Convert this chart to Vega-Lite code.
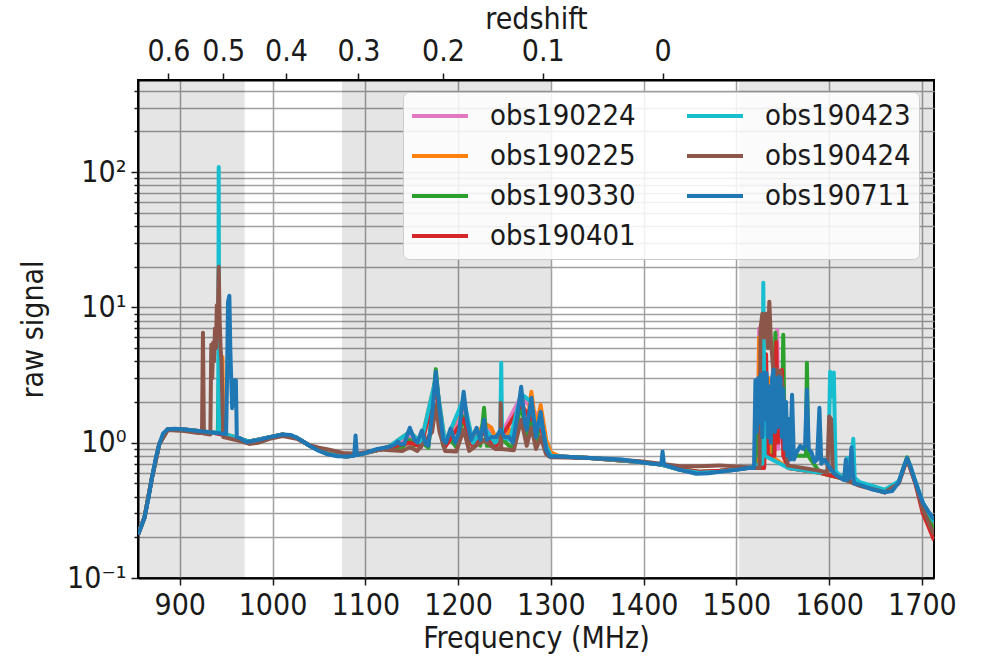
{
"$schema":"https://vega.github.io/schema/vega-lite/v6.json",
"width":796,"height":498,
"autosize":{"type":"none"},
"padding":{"left":138,"top":80,"right":48,"bottom":78},
"background":"white",
"datasets":{
"shade":[{"a":855,"b":970},{"a":1075,"b":1300},{"a":1503,"b":1713}],
"sig":[
{"s":"obs190224","f":855,"v":0.21},{"s":"obs190224","f":862,"v":0.28},{"s":"obs190224","f":870,"v":0.55},{"s":"obs190224","f":878,"v":0.98},{"s":"obs190224","f":887,"v":1.26},{"s":"obs190224","f":905,"v":1.25},{"s":"obs190224","f":935,"v":1.19},{"s":"obs190224","f":960,"v":1.1},{"s":"obs190224","f":975,"v":1.02},{"s":"obs190224","f":997,"v":1.1},{"s":"obs190224","f":1011,"v":1.15},{"s":"obs190224","f":1026,"v":1.09},{"s":"obs190224","f":1040,"v":0.95},{"s":"obs190224","f":1060,"v":0.82},{"s":"obs190224","f":1080,"v":0.79},{"s":"obs190224","f":1100,"v":0.84},{"s":"obs190224","f":1125,"v":0.92},{"s":"obs190224","f":1148,"v":1.1},{"s":"obs190224","f":1160,"v":0.95},{"s":"obs190224","f":1176,"v":2.8},{"s":"obs190224","f":1186,"v":0.95},{"s":"obs190224","f":1206,"v":1.8},{"s":"obs190224","f":1216,"v":0.95},{"s":"obs190224","f":1228,"v":1.3},{"s":"obs190224","f":1234,"v":1.25},{"s":"obs190224","f":1240,"v":0.95},{"s":"obs190224","f":1268,"v":2.2},{"s":"obs190224","f":1279,"v":1.8},{"s":"obs190224","f":1289,"v":1.5},{"s":"obs190224","f":1297,"v":0.82},{"s":"obs190224","f":1310,"v":0.79},{"s":"obs190224","f":1342,"v":0.77},{"s":"obs190224","f":1396,"v":0.72},{"s":"obs190224","f":1419,"v":0.69},{"s":"obs190224","f":1439,"v":0.63},{"s":"obs190224","f":1460,"v":0.6},{"s":"obs190224","f":1482,"v":0.61},{"s":"obs190224","f":1512,"v":0.65},{"s":"obs190224","f":1523,"v":0.66},{"s":"obs190224","f":1524.5,"v":7.0},{"s":"obs190224","f":1526,"v":0.9},{"s":"obs190224","f":1530,"v":2.5},{"s":"obs190224","f":1533,"v":0.9},{"s":"obs190224","f":1543,"v":0.9},{"s":"obs190224","f":1544,"v":6.8},{"s":"obs190224","f":1545,"v":0.9},{"s":"obs190224","f":1550,"v":2.0},{"s":"obs190224","f":1556,"v":0.65},{"s":"obs190224","f":1590,"v":0.6},{"s":"obs190224","f":1612,"v":0.55},{"s":"obs190224","f":1633,"v":0.49},{"s":"obs190224","f":1660,"v":0.43},{"s":"obs190224","f":1675,"v":0.51},{"s":"obs190224","f":1684,"v":0.77},{"s":"obs190224","f":1693,"v":0.51},{"s":"obs190224","f":1701,"v":0.34},{"s":"obs190224","f":1713,"v":0.24},

{"s":"obs190225","f":855,"v":0.21},{"s":"obs190225","f":862,"v":0.28},{"s":"obs190225","f":870,"v":0.55},{"s":"obs190225","f":878,"v":0.98},{"s":"obs190225","f":887,"v":1.26},{"s":"obs190225","f":905,"v":1.25},{"s":"obs190225","f":935,"v":1.19},{"s":"obs190225","f":945,"v":1.17},{"s":"obs190225","f":946,"v":4.3},{"s":"obs190225","f":947,"v":1.17},{"s":"obs190225","f":960,"v":1.1},{"s":"obs190225","f":975,"v":1.02},{"s":"obs190225","f":997,"v":1.1},{"s":"obs190225","f":1011,"v":1.15},{"s":"obs190225","f":1026,"v":1.09},{"s":"obs190225","f":1040,"v":0.95},{"s":"obs190225","f":1060,"v":0.82},{"s":"obs190225","f":1080,"v":0.79},{"s":"obs190225","f":1100,"v":0.84},{"s":"obs190225","f":1125,"v":0.93},{"s":"obs190225","f":1148,"v":1.2},{"s":"obs190225","f":1160,"v":1.0},{"s":"obs190225","f":1176,"v":3.0},{"s":"obs190225","f":1186,"v":1.0},{"s":"obs190225","f":1206,"v":2.0},{"s":"obs190225","f":1216,"v":1.0},{"s":"obs190225","f":1228,"v":1.4},{"s":"obs190225","f":1236,"v":1.29},{"s":"obs190225","f":1241,"v":1.05},{"s":"obs190225","f":1246,"v":1.2},{"s":"obs190225","f":1251,"v":1.05},{"s":"obs190225","f":1256,"v":1.25},{"s":"obs190225","f":1260,"v":1.05},{"s":"obs190225","f":1268,"v":2.3},{"s":"obs190225","f":1274,"v":1.3},{"s":"obs190225","f":1279,"v":2.38},{"s":"obs190225","f":1284,"v":1.3},{"s":"obs190225","f":1289,"v":1.9},{"s":"obs190225","f":1295,"v":1.05},{"s":"obs190225","f":1300,"v":0.85},{"s":"obs190225","f":1310,"v":0.79},{"s":"obs190225","f":1342,"v":0.77},{"s":"obs190225","f":1396,"v":0.72},{"s":"obs190225","f":1419,"v":0.69},{"s":"obs190225","f":1439,"v":0.63},{"s":"obs190225","f":1460,"v":0.6},{"s":"obs190225","f":1482,"v":0.61},{"s":"obs190225","f":1512,"v":0.65},{"s":"obs190225","f":1523,"v":0.66},{"s":"obs190225","f":1524.5,"v":6.0},{"s":"obs190225","f":1526,"v":0.9},{"s":"obs190225","f":1535,"v":3.0},{"s":"obs190225","f":1537,"v":0.8},{"s":"obs190225","f":1556,"v":0.65},{"s":"obs190225","f":1590,"v":0.6},{"s":"obs190225","f":1612,"v":0.55},{"s":"obs190225","f":1633,"v":0.49},{"s":"obs190225","f":1660,"v":0.43},{"s":"obs190225","f":1675,"v":0.51},{"s":"obs190225","f":1684,"v":0.77},{"s":"obs190225","f":1693,"v":0.51},{"s":"obs190225","f":1701,"v":0.33},{"s":"obs190225","f":1713,"v":0.22},

{"s":"obs190330","f":855,"v":0.21},{"s":"obs190330","f":862,"v":0.28},{"s":"obs190330","f":870,"v":0.55},{"s":"obs190330","f":878,"v":0.98},{"s":"obs190330","f":887,"v":1.26},{"s":"obs190330","f":905,"v":1.25},{"s":"obs190330","f":935,"v":1.18},{"s":"obs190330","f":941,"v":1.18},{"s":"obs190330","f":942,"v":3.0},{"s":"obs190330","f":943,"v":1.17},{"s":"obs190330","f":960,"v":1.09},{"s":"obs190330","f":975,"v":1.02},{"s":"obs190330","f":997,"v":1.1},{"s":"obs190330","f":1011,"v":1.15},{"s":"obs190330","f":1026,"v":1.09},{"s":"obs190330","f":1040,"v":0.95},{"s":"obs190330","f":1060,"v":0.83},{"s":"obs190330","f":1080,"v":0.79},{"s":"obs190330","f":1100,"v":0.84},{"s":"obs190330","f":1125,"v":0.92},{"s":"obs190330","f":1140,"v":0.93},{"s":"obs190330","f":1148,"v":1.05},{"s":"obs190330","f":1153,"v":0.95},{"s":"obs190330","f":1161,"v":1.0},{"s":"obs190330","f":1168,"v":0.92},{"s":"obs190330","f":1172,"v":1.7},{"s":"obs190330","f":1176,"v":3.5},{"s":"obs190330","f":1180,"v":1.7},{"s":"obs190330","f":1184,"v":0.95},{"s":"obs190330","f":1192,"v":1.05},{"s":"obs190330","f":1198,"v":0.93},{"s":"obs190330","f":1206,"v":1.56},{"s":"obs190330","f":1212,"v":0.98},{"s":"obs190330","f":1220,"v":1.05},{"s":"obs190330","f":1224,"v":0.95},{"s":"obs190330","f":1228,"v":1.81},{"s":"obs190330","f":1231,"v":0.95},{"s":"obs190330","f":1241,"v":0.95},{"s":"obs190330","f":1246,"v":1.1},{"s":"obs190330","f":1255,"v":0.95},{"s":"obs190330","f":1259,"v":0.92},{"s":"obs190330","f":1268,"v":2.0},{"s":"obs190330","f":1274,"v":1.0},{"s":"obs190330","f":1279,"v":1.6},{"s":"obs190330","f":1284,"v":0.95},{"s":"obs190330","f":1289,"v":1.5},{"s":"obs190330","f":1295,"v":0.85},{"s":"obs190330","f":1299,"v":0.79},{"s":"obs190330","f":1310,"v":0.79},{"s":"obs190330","f":1342,"v":0.77},{"s":"obs190330","f":1396,"v":0.72},{"s":"obs190330","f":1419,"v":0.69},{"s":"obs190330","f":1439,"v":0.64},{"s":"obs190330","f":1460,"v":0.61},{"s":"obs190330","f":1482,"v":0.62},{"s":"obs190330","f":1512,"v":0.65},{"s":"obs190330","f":1520,"v":0.66},{"s":"obs190330","f":1521,"v":1.75},{"s":"obs190330","f":1522,"v":0.8},{"s":"obs190330","f":1525,"v":1.5},{"s":"obs190330","f":1527,"v":0.8},{"s":"obs190330","f":1540,"v":0.8},{"s":"obs190330","f":1542,"v":6.5},{"s":"obs190330","f":1544,"v":1.5},{"s":"obs190330","f":1547,"v":2.5},{"s":"obs190330","f":1549,"v":1.2},{"s":"obs190330","f":1550.5,"v":6.27},{"s":"obs190330","f":1552,"v":1.0},{"s":"obs190330","f":1560,"v":0.8},{"s":"obs190330","f":1575,"v":0.8},{"s":"obs190330","f":1576,"v":3.9},{"s":"obs190330","f":1577.5,"v":0.8},{"s":"obs190330","f":1590,"v":0.6},{"s":"obs190330","f":1612,"v":0.55},{"s":"obs190330","f":1633,"v":0.49},{"s":"obs190330","f":1660,"v":0.43},{"s":"obs190330","f":1675,"v":0.51},{"s":"obs190330","f":1684,"v":0.78},{"s":"obs190330","f":1693,"v":0.51},{"s":"obs190330","f":1701,"v":0.34},{"s":"obs190330","f":1713,"v":0.23},

{"s":"obs190401","f":855,"v":0.21},{"s":"obs190401","f":862,"v":0.28},{"s":"obs190401","f":870,"v":0.55},{"s":"obs190401","f":878,"v":0.98},{"s":"obs190401","f":887,"v":1.26},{"s":"obs190401","f":905,"v":1.25},{"s":"obs190401","f":935,"v":1.19},{"s":"obs190401","f":960,"v":1.09},{"s":"obs190401","f":975,"v":1.02},{"s":"obs190401","f":997,"v":1.1},{"s":"obs190401","f":1011,"v":1.15},{"s":"obs190401","f":1026,"v":1.09},{"s":"obs190401","f":1040,"v":0.95},{"s":"obs190401","f":1060,"v":0.82},{"s":"obs190401","f":1080,"v":0.79},{"s":"obs190401","f":1100,"v":0.84},{"s":"obs190401","f":1125,"v":0.92},{"s":"obs190401","f":1148,"v":1.0},{"s":"obs190401","f":1160,"v":0.93},{"s":"obs190401","f":1176,"v":2.5},{"s":"obs190401","f":1186,"v":0.93},{"s":"obs190401","f":1206,"v":1.5},{"s":"obs190401","f":1216,"v":0.93},{"s":"obs190401","f":1228,"v":1.2},{"s":"obs190401","f":1240,"v":0.93},{"s":"obs190401","f":1268,"v":1.9},{"s":"obs190401","f":1279,"v":1.5},{"s":"obs190401","f":1289,"v":1.3},{"s":"obs190401","f":1297,"v":0.8},{"s":"obs190401","f":1310,"v":0.79},{"s":"obs190401","f":1342,"v":0.77},{"s":"obs190401","f":1396,"v":0.72},{"s":"obs190401","f":1419,"v":0.69},{"s":"obs190401","f":1439,"v":0.64},{"s":"obs190401","f":1460,"v":0.61},{"s":"obs190401","f":1482,"v":0.62},{"s":"obs190401","f":1512,"v":0.65},{"s":"obs190401","f":1530,"v":0.65},{"s":"obs190401","f":1532,"v":4.5},{"s":"obs190401","f":1534,"v":0.8},{"s":"obs190401","f":1541,"v":0.8},{"s":"obs190401","f":1543,"v":5.56},{"s":"obs190401","f":1545,"v":1.0},{"s":"obs190401","f":1549,"v":3.46},{"s":"obs190401","f":1550.5,"v":0.8},{"s":"obs190401","f":1556,"v":0.65},{"s":"obs190401","f":1590,"v":0.6},{"s":"obs190401","f":1612,"v":0.55},{"s":"obs190401","f":1633,"v":0.49},{"s":"obs190401","f":1660,"v":0.43},{"s":"obs190401","f":1675,"v":0.51},{"s":"obs190401","f":1684,"v":0.76},{"s":"obs190401","f":1693,"v":0.5},{"s":"obs190401","f":1701,"v":0.3},{"s":"obs190401","f":1707,"v":0.24},{"s":"obs190401","f":1713,"v":0.19},

{"s":"obs190423","f":855,"v":0.21},{"s":"obs190423","f":862,"v":0.28},{"s":"obs190423","f":870,"v":0.55},{"s":"obs190423","f":878,"v":0.98},{"s":"obs190423","f":887,"v":1.26},{"s":"obs190423","f":905,"v":1.25},{"s":"obs190423","f":935,"v":1.19},{"s":"obs190423","f":941.5,"v":1.19},{"s":"obs190423","f":942,"v":109},{"s":"obs190423","f":942.6,"v":1.19},{"s":"obs190423","f":960,"v":1.1},{"s":"obs190423","f":975,"v":1.02},{"s":"obs190423","f":997,"v":1.1},{"s":"obs190423","f":1011,"v":1.15},{"s":"obs190423","f":1026,"v":1.09},{"s":"obs190423","f":1040,"v":0.95},{"s":"obs190423","f":1060,"v":0.82},{"s":"obs190423","f":1080,"v":0.79},{"s":"obs190423","f":1100,"v":0.84},{"s":"obs190423","f":1125,"v":0.93},{"s":"obs190423","f":1148,"v":1.2},{"s":"obs190423","f":1160,"v":1.0},{"s":"obs190423","f":1176,"v":3.0},{"s":"obs190423","f":1186,"v":1.0},{"s":"obs190423","f":1206,"v":2.1},{"s":"obs190423","f":1216,"v":1.0},{"s":"obs190423","f":1228,"v":1.3},{"s":"obs190423","f":1240,"v":1.0},{"s":"obs190423","f":1245.5,"v":1.1},{"s":"obs190423","f":1246.5,"v":3.9},{"s":"obs190423","f":1247.5,"v":1.1},{"s":"obs190423","f":1256,"v":1.05},{"s":"obs190423","f":1268,"v":2.3},{"s":"obs190423","f":1279,"v":2.0},{"s":"obs190423","f":1284,"v":1.2},{"s":"obs190423","f":1289,"v":1.5},{"s":"obs190423","f":1295,"v":0.95},{"s":"obs190423","f":1300,"v":0.8},{"s":"obs190423","f":1310,"v":0.79},{"s":"obs190423","f":1342,"v":0.77},{"s":"obs190423","f":1396,"v":0.72},{"s":"obs190423","f":1419,"v":0.69},{"s":"obs190423","f":1439,"v":0.63},{"s":"obs190423","f":1460,"v":0.6},{"s":"obs190423","f":1482,"v":0.61},{"s":"obs190423","f":1512,"v":0.65},{"s":"obs190423","f":1528,"v":0.7},{"s":"obs190423","f":1529,"v":15.2},{"s":"obs190423","f":1530.5,"v":0.8},{"s":"obs190423","f":1556,"v":0.65},{"s":"obs190423","f":1590,"v":0.6},{"s":"obs190423","f":1599,"v":0.62},{"s":"obs190423","f":1601,"v":3.34},{"s":"obs190423","f":1603,"v":2.2},{"s":"obs190423","f":1605,"v":3.3},{"s":"obs190423","f":1607,"v":0.62},{"s":"obs190423","f":1612,"v":0.57},{"s":"obs190423","f":1618,"v":0.55},{"s":"obs190423","f":1619.5,"v":0.77},{"s":"obs190423","f":1621,"v":0.55},{"s":"obs190423","f":1625,"v":0.9},{"s":"obs190423","f":1626,"v":1.07},{"s":"obs190423","f":1627.5,"v":0.55},{"s":"obs190423","f":1633,"v":0.51},{"s":"obs190423","f":1660,"v":0.45},{"s":"obs190423","f":1675,"v":0.52},{"s":"obs190423","f":1684,"v":0.77},{"s":"obs190423","f":1693,"v":0.52},{"s":"obs190423","f":1701,"v":0.36},{"s":"obs190423","f":1713,"v":0.26},

{"s":"obs190424","f":855,"v":0.21},{"s":"obs190424","f":862,"v":0.28},{"s":"obs190424","f":870,"v":0.55},{"s":"obs190424","f":878,"v":0.98},{"s":"obs190424","f":887,"v":1.24},{"s":"obs190424","f":905,"v":1.22},{"s":"obs190424","f":920,"v":1.18},{"s":"obs190424","f":924,"v":1.18},{"s":"obs190424","f":925,"v":6.5},{"s":"obs190424","f":926,"v":1.17},{"s":"obs190424","f":933,"v":1.15},{"s":"obs190424","f":934,"v":5.3},{"s":"obs190424","f":935,"v":3.0},{"s":"obs190424","f":936,"v":5.5},{"s":"obs190424","f":937,"v":4.0},{"s":"obs190424","f":938,"v":7.0},{"s":"obs190424","f":939,"v":5.0},{"s":"obs190424","f":940,"v":10.4},{"s":"obs190424","f":941,"v":8.0},{"s":"obs190424","f":942,"v":20},{"s":"obs190424","f":943,"v":8},{"s":"obs190424","f":944,"v":5},{"s":"obs190424","f":945,"v":4},{"s":"obs190424","f":946,"v":2},{"s":"obs190424","f":947,"v":1.1},{"s":"obs190424","f":955,"v":1.07},{"s":"obs190424","f":965,"v":1.03},{"s":"obs190424","f":975,"v":0.98},{"s":"obs190424","f":985,"v":1.0},{"s":"obs190424","f":997,"v":1.07},{"s":"obs190424","f":1011,"v":1.12},{"s":"obs190424","f":1026,"v":1.07},{"s":"obs190424","f":1040,"v":0.96},{"s":"obs190424","f":1050,"v":0.92},{"s":"obs190424","f":1060,"v":0.89},{"s":"obs190424","f":1076,"v":0.84},{"s":"obs190424","f":1090,"v":0.83},{"s":"obs190424","f":1100,"v":0.85},{"s":"obs190424","f":1116,"v":0.89},{"s":"obs190424","f":1140,"v":0.87},{"s":"obs190424","f":1148,"v":0.93},{"s":"obs190424","f":1156,"v":0.87},{"s":"obs190424","f":1172,"v":1.2},{"s":"obs190424","f":1176,"v":1.9},{"s":"obs190424","f":1180,"v":1.2},{"s":"obs190424","f":1186,"v":0.87},{"s":"obs190424","f":1198,"v":0.86},{"s":"obs190424","f":1206,"v":1.25},{"s":"obs190424","f":1212,"v":0.87},{"s":"obs190424","f":1228,"v":1.05},{"s":"obs190424","f":1240,"v":0.9},{"s":"obs190424","f":1245.5,"v":0.9},{"s":"obs190424","f":1246,"v":1.97},{"s":"obs190424","f":1246.5,"v":0.9},{"s":"obs190424","f":1260,"v":0.88},{"s":"obs190424","f":1268,"v":1.48},{"s":"obs190424","f":1274,"v":0.95},{"s":"obs190424","f":1279,"v":1.3},{"s":"obs190424","f":1284,"v":0.9},{"s":"obs190424","f":1289,"v":1.1},{"s":"obs190424","f":1295,"v":0.82},{"s":"obs190424","f":1300,"v":0.78},{"s":"obs190424","f":1342,"v":0.77},{"s":"obs190424","f":1396,"v":0.73},{"s":"obs190424","f":1419,"v":0.7},{"s":"obs190424","f":1439,"v":0.67},{"s":"obs190424","f":1460,"v":0.67},{"s":"obs190424","f":1482,"v":0.68},{"s":"obs190424","f":1512,"v":0.66},{"s":"obs190424","f":1525,"v":0.65},{"s":"obs190424","f":1526,"v":7},{"s":"obs190424","f":1528,"v":9},{"s":"obs190424","f":1530,"v":6},{"s":"obs190424","f":1532,"v":9},{"s":"obs190424","f":1534,"v":5},{"s":"obs190424","f":1535.5,"v":11},{"s":"obs190424","f":1537,"v":6},{"s":"obs190424","f":1539,"v":4},{"s":"obs190424","f":1541,"v":2.5},{"s":"obs190424","f":1543,"v":3.5},{"s":"obs190424","f":1545,"v":2.6},{"s":"obs190424","f":1547,"v":3.4},{"s":"obs190424","f":1549,"v":2.9},{"s":"obs190424","f":1551,"v":2.0},{"s":"obs190424","f":1553,"v":1.2},{"s":"obs190424","f":1555,"v":0.68},{"s":"obs190424","f":1590,"v":0.62},{"s":"obs190424","f":1598,"v":0.6},{"s":"obs190424","f":1600,"v":1.56},{"s":"obs190424","f":1602,"v":1.5},{"s":"obs190424","f":1604,"v":0.6},{"s":"obs190424","f":1612,"v":0.55},{"s":"obs190424","f":1633,"v":0.48},{"s":"obs190424","f":1660,"v":0.43},{"s":"obs190424","f":1675,"v":0.5},{"s":"obs190424","f":1684,"v":0.76},{"s":"obs190424","f":1693,"v":0.5},{"s":"obs190424","f":1701,"v":0.32},{"s":"obs190424","f":1713,"v":0.21},

{"s":"obs190711","f":855,"v":0.21},{"s":"obs190711","f":858,"v":0.235},{"s":"obs190711","f":862,"v":0.28},{"s":"obs190711","f":866,"v":0.38},{"s":"obs190711","f":870,"v":0.55},{"s":"obs190711","f":874,"v":0.76},{"s":"obs190711","f":878,"v":0.98},{"s":"obs190711","f":882,"v":1.17},{"s":"obs190711","f":887,"v":1.26},{"s":"obs190711","f":895,"v":1.27},{"s":"obs190711","f":905,"v":1.25},{"s":"obs190711","f":920,"v":1.22},{"s":"obs190711","f":935,"v":1.19},{"s":"obs190711","f":950,"v":1.16},{"s":"obs190711","f":951,"v":3},{"s":"obs190711","f":952,"v":11},{"s":"obs190711","f":953.5,"v":12.2},{"s":"obs190711","f":954.5,"v":5},{"s":"obs190711","f":955.5,"v":2.9},{"s":"obs190711","f":956.5,"v":1.8},{"s":"obs190711","f":957.5,"v":2.9},{"s":"obs190711","f":958.5,"v":2.0},{"s":"obs190711","f":959.5,"v":2.9},{"s":"obs190711","f":960.5,"v":2.9},{"s":"obs190711","f":961.5,"v":1.1},{"s":"obs190711","f":965,"v":1.08},{"s":"obs190711","f":972,"v":1.01},{"s":"obs190711","f":985,"v":1.05},{"s":"obs190711","f":997,"v":1.1},{"s":"obs190711","f":1011,"v":1.15},{"s":"obs190711","f":1020,"v":1.14},{"s":"obs190711","f":1026,"v":1.09},{"s":"obs190711","f":1033,"v":1.02},{"s":"obs190711","f":1040,"v":0.95},{"s":"obs190711","f":1050,"v":0.87},{"s":"obs190711","f":1060,"v":0.82},{"s":"obs190711","f":1070,"v":0.795},{"s":"obs190711","f":1080,"v":0.79},{"s":"obs190711","f":1088,"v":0.8},{"s":"obs190711","f":1089.5,"v":1.13},{"s":"obs190711","f":1091,"v":0.81},{"s":"obs190711","f":1100,"v":0.84},{"s":"obs190711","f":1113,"v":0.9},{"s":"obs190711","f":1125,"v":0.93},{"s":"obs190711","f":1132,"v":0.97},{"s":"obs190711","f":1135,"v":1.02},{"s":"obs190711","f":1138,"v":0.97},{"s":"obs190711","f":1142,"v":0.98},{"s":"obs190711","f":1148,"v":1.29},{"s":"obs190711","f":1153,"v":1.05},{"s":"obs190711","f":1156,"v":1.0},{"s":"obs190711","f":1161,"v":1.23},{"s":"obs190711","f":1165,"v":0.98},{"s":"obs190711","f":1168,"v":0.95},{"s":"obs190711","f":1172,"v":1.6},{"s":"obs190711","f":1176,"v":3.34},{"s":"obs190711","f":1180,"v":1.8},{"s":"obs190711","f":1184,"v":1.05},{"s":"obs190711","f":1187,"v":1.0},{"s":"obs190711","f":1192,"v":1.27},{"s":"obs190711","f":1197,"v":1.0},{"s":"obs190711","f":1201,"v":1.2},{"s":"obs190711","f":1206,"v":2.38},{"s":"obs190711","f":1210,"v":1.4},{"s":"obs190711","f":1214,"v":1.05},{"s":"obs190711","f":1220,"v":1.29},{"s":"obs190711","f":1224,"v":1.05},{"s":"obs190711","f":1228,"v":1.48},{"s":"obs190711","f":1231,"v":1.05},{"s":"obs190711","f":1236,"v":1.1},{"s":"obs190711","f":1241,"v":1.1},{"s":"obs190711","f":1246,"v":1.25},{"s":"obs190711","f":1250,"v":1.1},{"s":"obs190711","f":1255,"v":1.1},{"s":"obs190711","f":1259,"v":1.0},{"s":"obs190711","f":1264,"v":1.6},{"s":"obs190711","f":1268,"v":2.59},{"s":"obs190711","f":1272,"v":1.4},{"s":"obs190711","f":1274,"v":1.25},{"s":"obs190711","f":1279,"v":2.15},{"s":"obs190711","f":1282,"v":1.4},{"s":"obs190711","f":1284,"v":1.1},{"s":"obs190711","f":1289,"v":1.69},{"s":"obs190711","f":1292,"v":1.2},{"s":"obs190711","f":1295,"v":0.89},{"s":"obs190711","f":1299,"v":0.79},{"s":"obs190711","f":1310,"v":0.79},{"s":"obs190711","f":1342,"v":0.77},{"s":"obs190711","f":1378,"v":0.75},{"s":"obs190711","f":1396,"v":0.72},{"s":"obs190711","f":1410,"v":0.7},{"s":"obs190711","f":1419,"v":0.69},{"s":"obs190711","f":1420.4,"v":0.86},{"s":"obs190711","f":1422,"v":0.69},{"s":"obs190711","f":1439,"v":0.63},{"s":"obs190711","f":1457,"v":0.59},{"s":"obs190711","f":1470,"v":0.595},{"s":"obs190711","f":1482,"v":0.61},{"s":"obs190711","f":1500,"v":0.63},{"s":"obs190711","f":1512,"v":0.65},{"s":"obs190711","f":1519,"v":0.65},{"s":"obs190711","f":1520.5,"v":2.9},{"s":"obs190711","f":1522,"v":1.2},{"s":"obs190711","f":1523.5,"v":3.0},{"s":"obs190711","f":1525,"v":1.4},{"s":"obs190711","f":1526.5,"v":3.2},{"s":"obs190711","f":1528,"v":1.1},{"s":"obs190711","f":1529.5,"v":3.3},{"s":"obs190711","f":1531,"v":1.5},{"s":"obs190711","f":1532.5,"v":3.28},{"s":"obs190711","f":1534,"v":1.1},{"s":"obs190711","f":1535.5,"v":2.6},{"s":"obs190711","f":1537,"v":1.0},{"s":"obs190711","f":1538.5,"v":3.0},{"s":"obs190711","f":1540,"v":3.46},{"s":"obs190711","f":1541.5,"v":1.2},{"s":"obs190711","f":1543,"v":3.0},{"s":"obs190711","f":1544.5,"v":1.3},{"s":"obs190711","f":1546,"v":3.07},{"s":"obs190711","f":1547.5,"v":3.0},{"s":"obs190711","f":1549,"v":1.1},{"s":"obs190711","f":1550.5,"v":2.5},{"s":"obs190711","f":1552,"v":0.9},{"s":"obs190711","f":1553.5,"v":2.0},{"s":"obs190711","f":1555,"v":0.8},{"s":"obs190711","f":1556.5,"v":1.5},{"s":"obs190711","f":1558,"v":0.75},{"s":"obs190711","f":1560,"v":2.26},{"s":"obs190711","f":1562,"v":0.75},{"s":"obs190711","f":1565,"v":0.85},{"s":"obs190711","f":1569,"v":0.95},{"s":"obs190711","f":1572,"v":0.9},{"s":"obs190711","f":1574,"v":0.95},{"s":"obs190711","f":1576,"v":2.46},{"s":"obs190711","f":1578,"v":0.9},{"s":"obs190711","f":1581,"v":0.85},{"s":"obs190711","f":1584,"v":0.72},{"s":"obs190711","f":1587,"v":0.75},{"s":"obs190711","f":1589.5,"v":1.81},{"s":"obs190711","f":1591.5,"v":0.7},{"s":"obs190711","f":1595,"v":0.75},{"s":"obs190711","f":1599,"v":0.68},{"s":"obs190711","f":1603,"v":0.62},{"s":"obs190711","f":1607,"v":0.58},{"s":"obs190711","f":1612,"v":0.55},{"s":"obs190711","f":1616,"v":0.53},{"s":"obs190711","f":1618,"v":0.75},{"s":"obs190711","f":1619.5,"v":0.53},{"s":"obs190711","f":1622,"v":0.55},{"s":"obs190711","f":1624,"v":0.92},{"s":"obs190711","f":1625.5,"v":0.6},{"s":"obs190711","f":1627,"v":0.5},{"s":"obs190711","f":1633,"v":0.49},{"s":"obs190711","f":1647,"v":0.45},{"s":"obs190711","f":1660,"v":0.43},{"s":"obs190711","f":1668,"v":0.44},{"s":"obs190711","f":1675,"v":0.51},{"s":"obs190711","f":1680,"v":0.65},{"s":"obs190711","f":1684,"v":0.77},{"s":"obs190711","f":1688,"v":0.66},{"s":"obs190711","f":1693,"v":0.51},{"s":"obs190711","f":1701,"v":0.36},{"s":"obs190711","f":1707,"v":0.31},{"s":"obs190711","f":1713,"v":0.27}
]},
"config":{
"font":"DejaVu Sans Condensed",
"view":{"stroke":"black","strokeWidth":2},
"axis":{"labelFont":"DejaVu Sans Condensed","titleFont":"DejaVu Sans Condensed","labelFontSize":30,"titleFontSize":30,"titleFontWeight":"normal","labelColor":"#1a1a1a","titleColor":"#1a1a1a","domainColor":"black","domainWidth":2,"tickColor":"#1a1a1a","tickWidth":1.5,"tickSize":7,"gridColor":"#a0a0a0","gridWidth":1.5,"labelPadding":5,"labelOverlap":false,"labelFlush":false},
"legend":{"orient":"none","legendX":265,"legendY":12,"columns":2,"symbolType":"M-2,0H2","symbolSize":784,"symbolStrokeWidth":4,"symbolOffset":13,"labelFont":"DejaVu Sans Condensed","labelFontSize":29,"labelColor":"#1a1a1a","labelOffset":34,"columnPadding":43,"rowPadding":9,"padding":8,"fillColor":"rgba(255,255,255,0.85)","strokeColor":"#cccccc","cornerRadius":6,"labelLimit":300}
},
"layer":[
{"data":{"name":"shade"},
 "mark":{"type":"rect","color":"black","opacity":0.1},
 "encoding":{
  "x":{"field":"a","type":"quantitative","scale":{"domain":[855,1713],"nice":false,"zero":false},
   "axis":{"values":[900,1000,1100,1200,1300,1400,1500,1600,1700],"format":"d","title":"Frequency (MHz)","grid":true,"titlePadding":3}},
  "x2":{"field":"b"}}},
{"data":{"name":"sig"},
 "mark":{"type":"line","strokeWidth":4,"clip":true,"strokeJoin":"round"},
 "encoding":{
  "x":{"field":"f","type":"quantitative",
   "axis":{"orient":"top","values":[887.75,946.94,1014.58,1092.62,1183.67,1291.28,1420.41],"labelExpr":"datum.value > 1400 ? '0' : format(1420.4058/datum.value - 1, '.1f')","title":"redshift","grid":false,"labelPadding":7,"titlePadding":2}},
  "y":{"field":"v","type":"quantitative","scale":{"type":"log","domain":[0.1,480],"nice":false},
   "axis":{"values":[0.1,0.2,0.3,0.4,0.5,0.6,0.7,0.8,0.9,1,2,3,4,5,6,7,8,9,10,20,30,40,50,60,70,80,90,100,200,300,400],
    "labelExpr":"datum.value == 0.1 ? '10⁻¹' : datum.value == 1 ? '10⁰' : datum.value == 10 ? '10¹' : datum.value == 100 ? '10²' : ''",
    "tickSize":{"condition":{"test":"datum.value == 0.1 || datum.value == 1 || datum.value == 10 || datum.value == 100","value":7},"value":4},
    "title":"raw signal","grid":true,"titlePadding":18}},
  "color":{"field":"s","type":"nominal",
   "scale":{"domain":["obs190224","obs190225","obs190330","obs190401","obs190423","obs190424","obs190711"],
    "range":["#e377c2","#ff7f0e","#2ca02c","#d62728","#17becf","#8c564b","#1f77b4"]},
   "legend":{"title":null}}}}
],
"resolve":{"axis":{"x":"independent"}}
}
